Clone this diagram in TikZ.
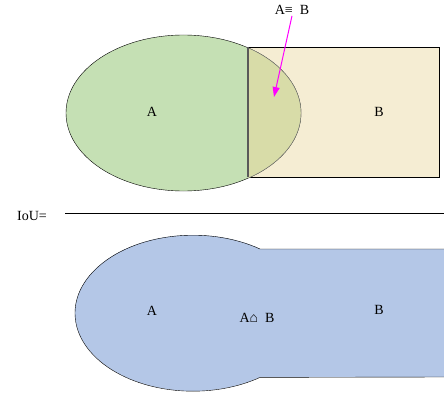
\documentclass[tikz,border=0pt]{standalone}
\usepackage{fontspec}
\setmainfont{Liberation Serif}
\usetikzlibrary{shapes.geometric, arrows.meta}
\definecolor{fillA}{RGB}{197,224,180}
\definecolor{fillB}{RGB}{245,237,211}
\definecolor{fillAB}{RGB}{216,220,168}
\definecolor{fillU}{RGB}{180,199,231}
\definecolor{pointer}{RGB}{255,0,255}
\tikzset{
  lbl/.style={inner sep=1pt},
}
\begin{document}
\begin{tikzpicture}[x=1pt, y=-1pt, >={Triangle[length=10pt, width=7pt]}, font=\fontsize{14}{16}\selectfont]
  \useasboundingbox (0,0) rectangle (444,393);

  % upper part: A and B
  \node[draw, rectangle, minimum width=191pt, minimum height=130pt, fill=fillB, inner sep=0pt] (B) at (343.5,112) {};
  \node[draw, ellipse, minimum width=235pt, minimum height=156pt, fill=fillA, inner sep=0pt] (A) at (183.5,113) {};
  \begin{scope}
    \clip (B.south west) rectangle (B.north east);
    \fill[fillAB] (A.center) ellipse [x radius=117.5, y radius=78];
    \draw[black!55] (A.center) ellipse [x radius=117.5, y radius=78];
  \end{scope}
  \draw[line width=1.4pt, black!65] (B.north west) -- (B.south west);
  \node[lbl] (labA) at (152,112) {A};
  \node[lbl] (labB) at (379,112) {B};
  \node[lbl] (inter) at (292,10) {A≡\ \ B};
  \coordinate (tip) at (274,97);
  \draw[->, pointer, line width=1pt] (inter.south) -- (tip);

  % fraction line
  \node[lbl] (iou) at (32,216) {IoU=};
  \coordinate (fracL) at (65,213);
  \coordinate (fracR) at (444,213);
  \draw[line width=0.8pt] (fracL) -- (fracR);

  % lower part: union of A and B
  \fill[fillU] (193,313) ellipse [x radius=118, y radius=78];
  \fill[fillU] (258,249) rectangle (446,377);
  \draw (446,249) -- (260,249) arc[start angle=-55.4, end angle=-304.6, x radius=118, y radius=78] -- (446,377);
  \node[lbl] (unA) at (152,311) {A};
  \node[lbl] (unAB) at (257,318) {A⌂\ \ B};
  \node[lbl] (unB) at (379,310) {B};
\end{tikzpicture}
\end{document}
